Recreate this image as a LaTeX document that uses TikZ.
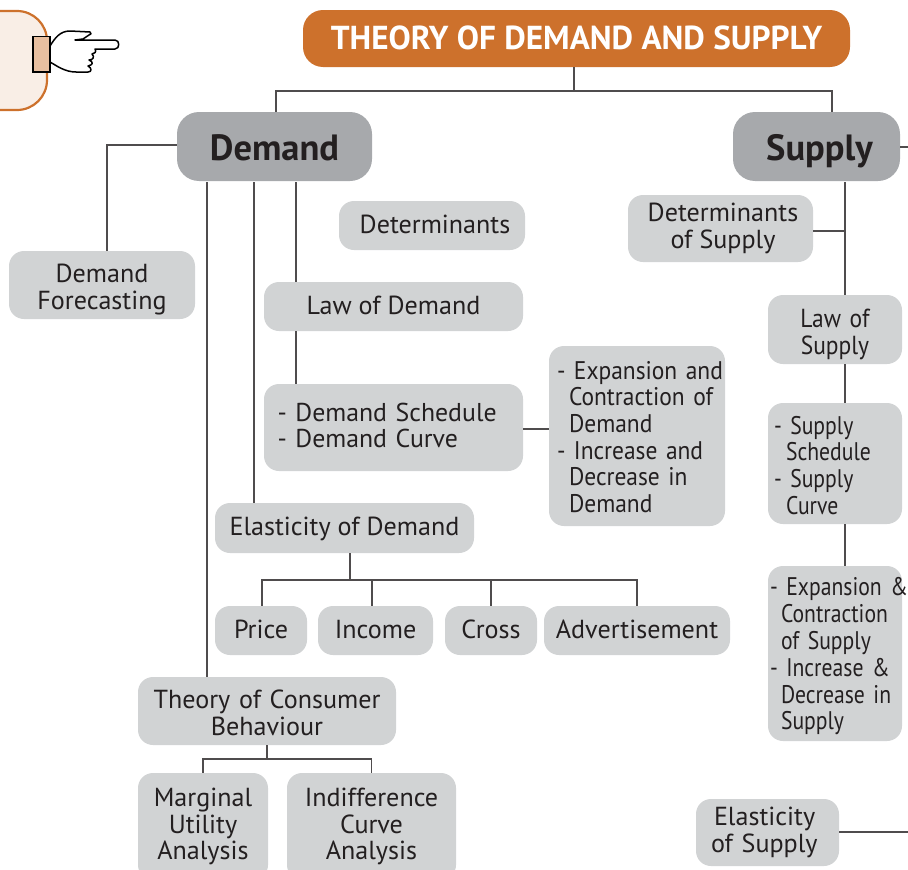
\documentclass[tikz,border=0pt]{standalone}
\usepackage{fontspec}
\setmainfont{PT Sans}
\newfontfamily\narrowA[FakeStretch=0.92]{PT Sans}
\newfontfamily\narrowB[FakeStretch=0.85]{PT Sans}
\newfontfamily\narrowC[FakeStretch=0.9]{PT Sans}
\definecolor{orangeT}{HTML}{CD712C}
\definecolor{grayH}{HTML}{A7A9AC}
\definecolor{grayB}{HTML}{D1D3D4}
\definecolor{inkT}{HTML}{231F20}
\tikzset{
  conn/.style={draw=inkT!80,line width=1.3pt},
  sbox/.style={fill=grayB,text=inkT,rounded corners=15pt,inner sep=0pt,align=center,font=\fontsize{26.1}{26.8}\selectfont},
  lbox/.style={sbox,align=left},
  onebox/.style={sbox,text height=20.5pt,text depth=5pt},
  hbox/.style={fill=grayH,text=inkT,rounded corners=22pt,inner sep=0pt,text height=27pt,text depth=0pt,font=\fontsize{36.5}{38}\bfseries\selectfont},
  low/.style={execute at begin node=\rule{0pt}{#1}},
  up/.style={execute at end node=\rule[-#1]{0pt}{#1}},
}
\begin{document}
\begin{tikzpicture}[x=1pt,y=-1pt]
\useasboundingbox (0,0) rectangle (908,870);
\draw[draw=orangeT,fill=orangeT!12,line width=2.2pt,rounded corners=30pt] (-50,11) rectangle (47,110);
\node[fill=orangeT,text=white,rounded corners=20pt,minimum width=547pt,minimum height=57pt,inner sep=0pt,up=2pt,font=\fontsize{33.2}{35}\bfseries\selectfont] (title) at (576.5,38.5) {THEORY OF DEMAND AND SUPPLY};
\node[hbox,minimum width=195pt,minimum height=69pt] (demand) at (274.5,146.5) {Demand};
\node[hbox,minimum width=167pt,minimum height=69pt] (supply) at (816.5,146.5) {\hspace*{6pt}Supply};
\node[onebox,minimum width=186pt,minimum height=49pt] (det) at (432,225.5) {\hspace*{6pt}Determinants};
\node[sbox,minimum width=185pt,minimum height=67pt] (detS) at (720.5,228.5) {\hspace*{5pt}Determinants\\\hspace*{5pt}of Supply};
\node[sbox,text width=186pt,low=28pt,minimum height=68pt] (fore) at (102,285) {Demand\\Forecasting};
\node[onebox,minimum width=259pt,minimum height=49pt] (law) at (393.5,306.5) {Law of Demand};
\node[sbox,text width=134pt,low=28pt,minimum height=69pt,font=\fontsize{26.1}{26.8}\narrowC] (lawS) at (835,329.5) {Law of\\Supply};
\node[lbox,text width=232pt,up=4pt,minimum width=259pt,minimum height=87pt,font=\fontsize{25.8}{26.2}\selectfont] (sched) at (393.5,427.5) {- Demand Schedule\\- Demand Curve};
\node[lbox,text width=160pt,low=20pt,minimum width=176pt,minimum height=180pt,font=\fontsize{25.5}{26.6}\narrowA] (exp) at (637,436) {\mbox{- Expansion and}\\\hspace*{12pt}Contraction of\\\hspace*{12pt}Demand\\\mbox{- Increase and}\\\hspace*{12pt}Decrease in\\\hspace*{12pt}Demand};
\node[lbox,text width=122pt,low=22pt,minimum width=134pt,minimum height=121pt,font=\fontsize{25.5}{26.8}\narrowB] (schedS) at (835,463.5) {- Supply\\\hspace*{12pt}Schedule\\- Supply\\\hspace*{12pt}Curve};
\node[lbox,text width=130pt,low=24pt,minimum width=134pt,minimum height=175pt,font=\fontsize{25.5}{26.8}\narrowB] (expS) at (835,653.5) {\mbox{- Expansion \&}\\\hspace*{11pt}Contraction\\\hspace*{11pt}of Supply\\\mbox{- Increase \&}\\\hspace*{11pt}\mbox{Decrease in}\\\hspace*{11pt}Supply};
\node[onebox,minimum width=259pt,minimum height=50pt] (elast) at (344.5,528) {Elasticity of Demand};
\node[onebox,minimum width=92pt,minimum height=49pt] (price) at (261,630.5) {Price};
\node[onebox,minimum width=115pt,minimum height=49pt] (income) at (375.5,630.5) {Income};
\node[onebox,minimum width=92pt,minimum height=49pt] (cross) at (491,630.5) {Cross};
\node[onebox,minimum width=186pt,minimum height=49pt] (adv) at (637,630.5) {Advertisement};
\node[sbox,text width=258pt,low=22pt,minimum height=68pt] (cons) at (267,711) {Theory of Consumer\\Behaviour};
\node[sbox,minimum width=130pt,minimum height=107pt] (marg) at (203,826.5) {Marginal\\Utility\\Analysis};
\node[sbox,minimum width=169pt,minimum height=107pt] (indi) at (371.5,826.5) {Indifference\\Curve\\Analysis};
\node[lbox,text width=113pt,minimum width=143pt,minimum height=67pt] (elastS) at (767.5,832.5) {\hspace*{3pt}Elasticity\\of Supply};
\coordinate (a1) at (276,91);
\coordinate (a2) at (832,91);
\coordinate (d1) at (207,182);
\coordinate (d2) at (254,182);
\coordinate (d3) at (296,182);
\coordinate (s1) at (845,182);
\coordinate (e1) at (350,580);
\coordinate (t1) at (267,759);
\coordinate (endS) at (908,147);
\coordinate (endE) at (908,832);
\draw[conn] (title.south -| 574,0) -- (574,91);
\draw[conn] (demand.north -| a1) -- (a1) -- (a2) -- (supply.north -| a2);
\draw[conn] (demand.west |- 0,145) -| (fore.north -| 107,0);
\draw[conn] (d1) -- (d1 |- cons.north);
\draw[conn] (d2) -- (d2 |- elast.north);
\draw[conn] (d3) -- (d3 |- law.north);
\draw[conn] (law.south -| d3) -- (sched.north -| d3);
\draw[conn] (sched.east |- 0,429) -- (exp.west |- 0,429);
\draw[conn] (elast.south -| e1) -- (e1);
\draw[conn] (price.north -| 262,0) |- (e1) -| (adv.north -| 637,0);
\draw[conn] (income.north -| 372,0) -- (372,580);
\draw[conn] (cross.north -| 491,0) -- (491,580);
\draw[conn] (cons.south) -- (t1);
\draw[conn] (marg.north) |- (t1) -| (indi.north);
\draw[conn] (s1) -- (s1 |- lawS.north);
\draw[conn] (detS.east |- 0,231) -- (s1 |- 0,231);
\draw[conn] (lawS.south -| s1) -- (schedS.north -| s1);
\draw[conn] (schedS.south -| s1) -- (expS.north -| s1);
\draw[conn] (supply.east |- endS) -- (endS);
\draw[conn] (elastS.east |- endE) -- (endE);
\draw[line width=1.5pt,fill=white,line join=round] (50,46) .. controls (55,38) and (60,31) .. (70,31) -- (90,32) .. controls (92,33) and (91,35) .. (89,35) -- (83,39) -- (75,40) -- (115,40) .. controls (120,40) and (120,49) .. (115,49) -- (95,49) .. controls (97,52) and (94,54) .. (92,54) .. controls (95,57) and (93,60) .. (89,60) .. controls (94,62) and (93,65) .. (88,66) .. controls (92,68) and (92,72) .. (88,72) -- (76,72) .. controls (65,72) and (57,66) .. (50,62) -- cycle;
\draw[line width=1.5pt,fill=orangeT!45!white] (33,36.5) rectangle (50,72);
\end{tikzpicture}
\end{document}
